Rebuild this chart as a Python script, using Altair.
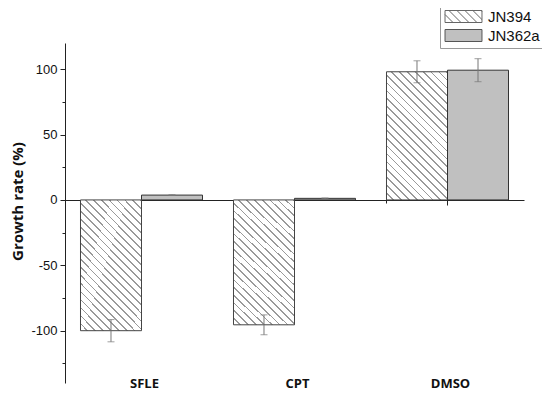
import altair as alt
import pandas as pd

categories = ["SFLE", "CPT", "DMSO"]
series = ["JN394", "JN362a"]
jn394_values = [-100.0, -95.5, 98.0]
jn394_err = [8.5, 7.6, 8.4]
jn362a_values = [3.7, 1.2, 99.2]
jn362a_err = [0.3, 0.3, 8.8]
y_major = [-100, -50, 0, 50, 100]
y_minor = [-125, -75, -25, 25, 75]

rows = []
for i, c in enumerate(categories):
    rows.append({"category": c, "series": "JN394", "value": jn394_values[i],
                 "lo": jn394_values[i] - jn394_err[i], "hi": jn394_values[i] + jn394_err[i]})
    rows.append({"category": c, "series": "JN362a", "value": jn362a_values[i],
                 "lo": jn362a_values[i] - jn362a_err[i], "hi": jn362a_values[i] + jn362a_err[i]})
df = pd.DataFrame(rows)

# hatch pattern as a striped linear gradient
N = 24
f = 0.22
stops = []
for k in range(N):
    b = k / N
    m = (k + 1 - f) / N
    e = (k + 1) / N
    stops += [alt.GradientStop(color="#ffffff", offset=b),
              alt.GradientStop(color="#ffffff", offset=m),
              alt.GradientStop(color="#9a9a9a", offset=m),
              alt.GradientStop(color="#9a9a9a", offset=e)]
hatch = alt.LinearGradient(gradient="linear", stops=stops, x1=0, y1=1, x2=0.573, y2=-0.203)

# legend symbol paths (unit = 6px)
hw, hh = 3.08, 1.0
parts = [f"M{-hw},{-hh}H{hw}V{hh}H{-hw}Z"]
sp = 1.33
x0 = -hw - 2 * hh
while x0 < hw:
    xa, ya = x0, -hh
    xb, yb = x0 + 2 * hh, hh
    if xa < -hw:
        ya = ya + (-hw - xa); xa = -hw
    if xb > hw:
        yb = yb - (xb - hw); xb = hw
    if xb > xa:
        parts.append(f"M{xa:.3f},{ya:.3f}L{xb:.3f},{yb:.3f}")
    x0 += sp
hatch_path = "".join(parts)
rect_path = f"M{-hw},{-hh}H{hw}V{hh}H{-hw}Z"

xscale = alt.Scale(domain=categories, paddingInner=0.2026, paddingOuter=0.1013)
yscale = alt.Scale(domain=[-140, 120], nice=False, zero=False)
offscale = alt.Scale(domain=series, paddingInner=0, paddingOuter=0)

xenc = alt.X("category:N", sort=categories, scale=xscale, title=None,
             axis=alt.Axis(orient="bottom", offset=-183, domainColor="#222", tickColor="#222", tickSize=5,
                           labelPadding=172, labelAngle=0, labelFont="Open Sans",
                           labelFontWeight="bold", labelFontSize=13, labelColor="#111",
                           labelOffset=3))
xenc_minor = alt.X("category:N", sort=categories, scale=xscale, title=None,
                   axis=alt.Axis(orient="bottom", offset=-183, domain=False, tickColor="#222",
                                 tickSize=3, bandPosition=0, labels=False))
xoff = alt.XOffset("series:N", scale=offscale, sort=series)
yenc = alt.Y("value:Q", scale=yscale, title="Growth rate (%)",
             axis=alt.Axis(orient="left", values=y_major, grid=False, domainColor="#222", tickColor="#222",
                           tickSize=5, labelExpr="'' + datum.value",
                           labelFont="Liberation Sans", labelFontSize=13, labelColor="#111",
                           labelPadding=3, titleFont="Open Sans", titleFontWeight="bold",
                           titleFontSize=15, titleColor="#111", titlePadding=5, titleY=158))
yenc_minor = alt.Y("value:Q", scale=yscale, title=None,
                   axis=alt.Axis(orient="left", values=y_minor, grid=False, domain=False,
                                 tickColor="#222", tickSize=3, labels=False))

base = alt.Chart(df)

bars394 = base.transform_filter(alt.datum.series == "JN394").mark_bar(
    fill=hatch, stroke="#444", strokeWidth=1).encode(x=xenc, xOffset=xoff, y=yenc)
bars362 = base.transform_filter(alt.datum.series == "JN362a").mark_bar(
    fill="#c0c0c0", stroke="#333", strokeWidth=1).encode(x=xenc, xOffset=xoff, y=yenc)

err = base.mark_rule(color="#777", strokeWidth=1).encode(
    x=xenc, xOffset=xoff, y=alt.Y("lo:Q", scale=yscale), y2="hi:Q")
cap_lo = base.mark_tick(color="#777", size=7, thickness=1).encode(
    x=xenc, xOffset=xoff, y=alt.Y("lo:Q", scale=yscale))
cap_hi = base.mark_tick(color="#777", size=7, thickness=1).encode(
    x=xenc, xOffset=xoff, y=alt.Y("hi:Q", scale=yscale))

legend = alt.Legend(title=None, orient="none", legendX=375, legendY=-38,
                    symbolSize=144, symbolOffset=12, labelOffset=17,
                    symbolStrokeWidth=1, symbolOpacity=1,
                    labelFont="Liberation Sans", labelFontSize=15, labelColor="#111",
                    strokeColor="#999", padding=4, rowPadding=2, fillColor="white")
leg = base.mark_point(opacity=0, strokeWidth=1).encode(
    x=xenc_minor, xOffset=xoff, y=yenc_minor,
    shape=alt.Shape("series:N", sort=series, scale=alt.Scale(domain=series, range=[hatch_path, rect_path]), legend=legend),
    fill=alt.Fill("series:N", sort=series, scale=alt.Scale(domain=series, range=["#ffffff", "#c0c0c0"]), legend=legend),
    stroke=alt.Stroke("series:N", sort=series, scale=alt.Scale(domain=series, range=["#666666", "#555555"]), legend=legend))

main = alt.layer(bars394, bars362, err, cap_lo, cap_hi)

chart = alt.layer(main, leg).resolve_axis(x="independent", y="independent").properties(
    width=459, height=340,
    autosize=alt.AutoSizeParams(type="none"),
    padding={"left": 57, "top": 35, "right": 18, "bottom": 10},
).configure_view(stroke=None)

chart.save("out.html", embed_options={"renderer": "svg", "actions": False})
